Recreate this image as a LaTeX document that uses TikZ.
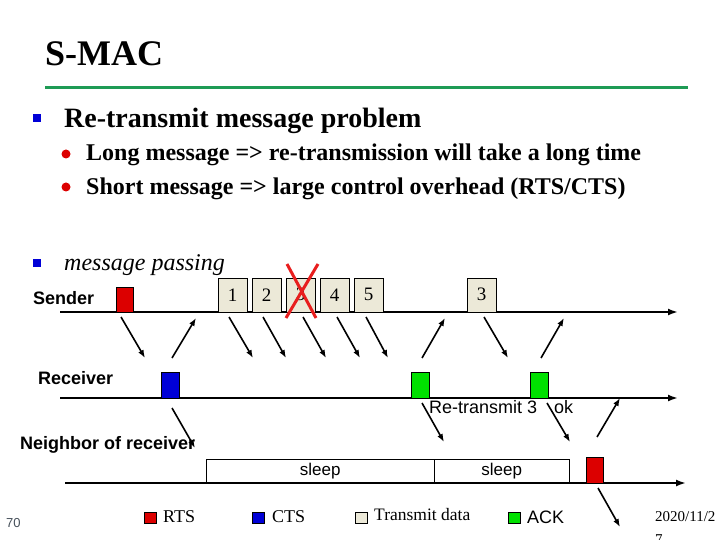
\documentclass[tikz,border=0pt]{standalone}
\usepackage{fontspec}
\setmainfont{Liberation Serif}
\setsansfont{Liberation Sans}
\usetikzlibrary{arrows.meta}
\definecolor{rulegreen}{RGB}{30,155,85}
\definecolor{rtsred}{RGB}{220,0,0}
\definecolor{ctsblue}{RGB}{0,0,215}
\definecolor{ackgreen}{RGB}{0,225,0}
\definecolor{datagray}{RGB}{236,233,216}
\definecolor{xred}{RGB}{232,30,30}
\definecolor{pagegray}{RGB}{70,80,90}
\newcommand{\fsz}[1]{\fontsize{#1}{#1}\selectfont}
\begin{document}
\begin{tikzpicture}[x=1pt, y=-1pt,
  pkt/.style={draw, thin, inner sep=0pt, anchor=south west},
  ctl/.style={pkt, minimum width=18pt, minimum height=26pt},
  dat/.style={pkt, fill=datagray, minimum width=29pt, minimum height=34pt, font=\fsz{19}},
  slp/.style={pkt, minimum height=24pt, font=\sffamily\fsz{17}},
  lbl/.style={anchor=west, inner sep=0pt, font=\sffamily\bfseries\fsz{18}},
  key/.style={draw, thin, inner sep=0pt, minimum width=12pt, minimum height=11pt},
  keytxt/.style={anchor=base west, inner sep=0pt, font=\fsz{18}},
  tline/.style={line width=2.4pt, -{Latex[length=10pt,width=7pt]}},
  arr/.style={line width=1.6pt, -{Latex[length=8pt,width=6pt]}}
]
\useasboundingbox (0,0) rectangle (720,540);

\node[anchor=base west, inner sep=0pt, font=\bfseries\fsz{36}] (title) at (45,66) {S-MAC};
\coordinate (rule0) at (45,88); \coordinate (rule1) at (688,88);
\draw[rulegreen, line width=3pt] (rule0) -- (rule1);

\node[fill=ctsblue, minimum size=8.5pt, inner sep=0pt] (b1) at (37,118) {};
\node[anchor=base west, inner sep=0pt, font=\bfseries\fsz{28}] (head) at (64,128) {Re-transmit message problem};
\node[circle, fill=rtsred, minimum size=9pt, inner sep=0pt] (d1) at (66,154) {};
\node[anchor=base west, inner sep=0pt, font=\bfseries\fsz{24}] (long) at (86,161) {Long message => re-transmission will take a long time};
\node[circle, fill=rtsred, minimum size=9pt, inner sep=0pt] (d2) at (66,187) {};
\node[anchor=base west, inner sep=0pt, font=\bfseries\fsz{24}] (short) at (86,195) {Short message => large control overhead (RTS/CTS)};
\node[fill=ctsblue, minimum size=8.5pt, inner sep=0pt] (b2) at (37,263) {};
\node[anchor=base west, inner sep=0pt, font=\itshape\fsz{24}] (pass) at (64,270) {message passing};

% time lines
\node[lbl] (snd) at (33,298) {Sender};
\node[lbl] (rcv) at (38,378) {Receiver};
\node[lbl] (nbr) at (20,445) {Neighbor of receiver};
\coordinate (s0) at (60,312); \coordinate (s1) at (678,312);
\coordinate (r0) at (60,398); \coordinate (r1) at (678,398);
\coordinate (n0) at (65,483); \coordinate (n1) at (686,483);
\draw[tline] (s0) -- (s1);
\draw[tline] (r0) -- (r1);
\draw[tline] (n0) -- (n1);

% packets
\node[ctl, fill=rtsred, minimum width=17pt, minimum height=25pt] (rts) at (116,312) {};
\node[dat] (p1) at (218,312) {1};
\node[dat] (p2) at (252,312) {2};
\node[dat] (p3) at (286,312) {3};
\node[dat] (p4) at (320,312) {4};
\node[dat] (p5) at (354,312) {5};
\node[dat] (p3b) at (467,312) {3};
\node[ctl, fill=ctsblue] (cts) at (161,398) {};
\node[ctl, fill=ackgreen] (ack1) at (411,398) {};
\node[ctl, fill=ackgreen] (ack2) at (530,398) {};
\node[slp, minimum width=228pt] (sl1) at (206,483) {sleep};
\node[slp, minimum width=135pt] (sl2) at (434,483) {sleep};
\node[ctl, fill=rtsred, minimum width=17pt] (rts2) at (586,483) {};

\coordinate (x1) at (287,264); \coordinate (x2) at (316,318);
\coordinate (x3) at (318,264); \coordinate (x4) at (286,318);
\draw[xred, line width=3pt] (x1) -- (x2) (x3) -- (x4);

% messages
\coordinate (a1) at (121,317);  \coordinate (e1) at (145,358);
\coordinate (a2) at (172,358);  \coordinate (e2) at (196,318);
\coordinate (a3) at (229,317);  \coordinate (e3) at (253,358);
\coordinate (a4) at (263,317);  \coordinate (e4) at (286,358);
\coordinate (a5) at (303,317);  \coordinate (e5) at (326,358);
\coordinate (a6) at (337,317);  \coordinate (e6) at (360,358);
\coordinate (a7) at (366,317);  \coordinate (e7) at (388,358);
\coordinate (a8) at (422,358);  \coordinate (e8) at (445,318);
\coordinate (a9) at (484,317);  \coordinate (e9) at (508,358);
\coordinate (a10) at (541,358); \coordinate (e10) at (564,318);
\coordinate (a11) at (172,408); \coordinate (e11) at (195,448);
\coordinate (a12) at (422,403); \coordinate (e12) at (444,442);
\coordinate (a13) at (547,403); \coordinate (e13) at (570,442);
\coordinate (a14) at (597,437); \coordinate (e14) at (620,398);
\coordinate (a15) at (598,488); \coordinate (e15) at (620,527);
\draw[arr] (a1) -- (e1);   \draw[arr] (a2) -- (e2);
\draw[arr] (a3) -- (e3);   \draw[arr] (a4) -- (e4);
\draw[arr] (a5) -- (e5);   \draw[arr] (a6) -- (e6);
\draw[arr] (a7) -- (e7);   \draw[arr] (a8) -- (e8);
\draw[arr] (a9) -- (e9);   \draw[arr] (a10) -- (e10);
\draw[arr] (a11) -- (e11); \draw[arr] (a12) -- (e12);
\draw[arr] (a13) -- (e13); \draw[arr] (a14) -- (e14);
\draw[arr] (a15) -- (e15);

\node[anchor=west, inner sep=0pt, font=\sffamily\fsz{18}] (retx) at (429,407) {Re-transmit 3};
\node[anchor=west, inner sep=0pt, font=\sffamily\fsz{18}] (ok) at (554,407) {ok};

% legend
\node[anchor=base west, inner sep=0pt, text=pagegray, font=\sffamily\fsz{13}] (pg) at (6,527) {70};
\node[key, fill=rtsred] (krts) at (150,518) {};
\node[keytxt] (trts) at (163,522) {RTS};
\node[key, fill=ctsblue] (kcts) at (258,518) {};
\node[keytxt] (tcts) at (272,522) {CTS};
\node[key, fill=datagray] (kdat) at (361,518) {};
\node[keytxt, font=\fsz{17.5}] (tdat) at (374,520) {Transmit data};
\node[key, fill=ackgreen] (kack) at (514,518) {};
\node[keytxt, font=\sffamily\fsz{18}] (tack) at (527,523) {ACK};
\node[anchor=north west, inner sep=0pt, align=left, font=\fsz{15}] (date) at (655,511) {2020/11/2\\[8pt]7};
\end{tikzpicture}
\end{document}
